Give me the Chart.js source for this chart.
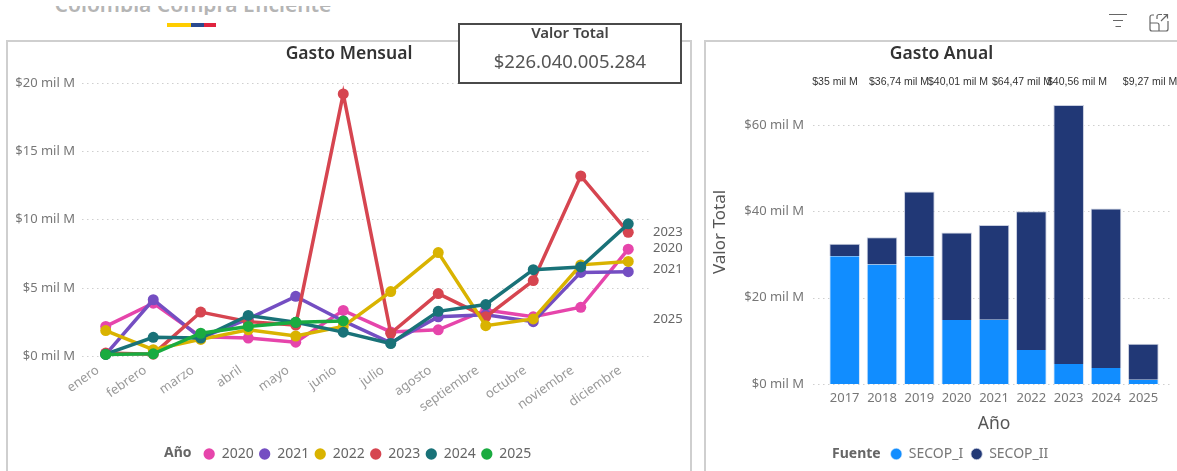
<!DOCTYPE html>
<html>
<head>
<meta charset="utf-8">
<script src="https://cdn.jsdelivr.net/npm/chart.js@4"></script>
<style>
    body { margin: 0; background: #fff; overflow: hidden; width: 1177px; height: 471px; position: relative; font-family: "Noto Sans", sans-serif; }
    .abs { position: absolute; }
    .panel { position: absolute; top: 40px; height: 440px; border: 2px solid #cfcfcf; box-sizing: border-box; background: #fff; }
    #cut { left: 0; top: 6px; width: 400px; height: 9px; overflow: hidden; }
    #cut span { position: absolute; left: 54px; top: -17px; width: 278px; line-height: 30px; text-align: center; font-size: 21px; font-weight: 600; color: #b5b5b5; white-space: nowrap; }
    #card { left: 458px; top: 23px; width: 224px; height: 61px; border: 2px solid #4a4a4a; box-sizing: border-box; background: #fff; text-align: center; color: #444; }
    #card .t { font-size: 15px; font-weight: 600; line-height: 16px; margin-top: -1px; }
    #card .v { font-size: 18.5px; line-height: 24px; margin-top: 9px; color: #555; }
    .legend-title { font-size: 14px; font-weight: 700; color: #666; white-space: nowrap; }
</style>
</head>
<body>
<div class="abs" id="cut"><span>Colombia Compra Eficiente</span></div>
<div class="abs" style="left:167px;top:23px;width:24px;height:4px;background:#ffcd00"></div>
<div class="abs" style="left:191px;top:23px;width:13px;height:4px;background:#2a4a8f"></div>
<div class="abs" style="left:204px;top:23px;width:12px;height:4px;background:#e0233e"></div>

<div class="panel" style="left:6px;width:686px"></div>
<div class="panel" style="left:704px;width:480px"></div>

<canvas class="abs" id="monthChart" width="682" height="429" style="left:8px;top:42px"></canvas>
<canvas class="abs" id="yearChart" width="471" height="429" style="left:706px;top:42px"></canvas>

<div class="abs legend-title" style="left:164px;top:442px">Año</div>
<div class="abs legend-title" style="left:832px;top:443px">Fuente</div>

<div class="abs" id="card">
    <div class="t">Valor Total</div>
    <div class="v">$226.040.005.284</div>
</div>

<svg class="abs" style="left:1105px;top:10px" width="70" height="26" fill="none" stroke="#666" stroke-width="1.2">
    <path d="M4 4.5H22M8 10.5H18M10.5 16.5H16"/>
    <path d="M52 9V6.5a2 2 0 0 1 2-2h3M60 4.5h2.500M63 11v8a2 2 0 0 1-2 2H47a2 2 0 0 1-2-2V7a2 2 0 0 1 2-2h2M45 13h7a2 2 0 0 1 2 2v6M56 11l6.500-6.500M58.500 4.500h4v4"/>
</svg>

<script>
// monthly spend, in "mil M"
const months = ['enero', 'febrero', 'marzo', 'abril', 'mayo', 'junio', 'julio', 'agosto', 'septiembre', 'octubre', 'noviembre', 'diciembre'];
const gasto2020 = [2.2, 3.9, 1.45, 1.35, 1.05, 3.37, 1.8, 1.95, 3.4, 2.9, 3.6, 7.85];
const gasto2021 = [0.15, 4.15, 1.35, 2.75, 4.4, 2.6, 1.0, 2.9, 3.05, 2.55, 6.15, 6.2];
const gasto2022 = [1.9, 0.5, 1.25, 1.95, 1.5, 2.2, 4.75, 7.6, 2.25, 2.75, 6.7, 6.95];
const gasto2023 = [0.25, 0.17, 3.25, 2.55, 2.3, 19.2, 1.7, 4.6, 2.9, 5.55, 13.2, 9.08];
const gasto2024 = [0.17, 1.4, 1.35, 3.0, 2.5, 1.78, 0.95, 3.3, 3.8, 6.35, 6.55, 9.7];
const gasto2025 = [0.15, 0.2, 1.7, 2.2, 2.5, 2.6, null, null, null, null, null, null];
const endLabels = ['2023', '2020', '2021', '2025'];
const endLabelValues = [9.1, 7.9, 6.4, 2.7];

// yearly spend by source
const years = ['2017', '2018', '2019', '2020', '2021', '2022', '2023', '2024', '2025'];
const secopI = [29.6, 27.65, 29.6, 14.8, 14.9, 7.9, 4.65, 3.7, 1.0];
const secopII = [2.9, 6.35, 15.0, 20.3, 21.9, 32.1, 59.95, 36.95, 8.35];
const totalLabels = ['$35 mil M', '$36,74 mil M', '$40,01 mil M', '$64,47 mil M', '$40,56 mil M', '$9,27 mil M'];
const totalLabelCenters = [835, 899, 958, 1022, 1077, 1150];

const fontFamily = '"Noto Sans", sans-serif';
const tickColor = '#777';

function moneyTick(value) {
    return '$' + value + ' mil M';
}

function lineSeries(label, data, color, order) {
    return {
        label: label,
        data: data,
        borderColor: color,
        backgroundColor: color,
        borderWidth: 3.5,
        pointRadius: 5.5,
        pointBorderWidth: 0,
        pointStyle: 'circle',
        tension: 0,
        clip: false,
        order: order
    };
}

// empty axis, keeps room at the right of the plot without moving title and legend off centre
function spacerAxis(width) {
    return {
        type: 'linear',
        axis: 'y',
        position: 'right',
        grid: { display: false },
        border: { display: false },
        ticks: { display: false },
        afterFit: function(scale) { scale.width = width; }
    };
}

// Power BI centres the legend next to its title, move ours over the same way
function legendShift(dx) {
    return {
        id: 'legendShift',
        afterLayout: function(chart) {
            chart.legend.left += 2 * dx;
        }
    };
}

// series names next to the right end of the lines
const endLabelPlugin = {
    id: 'endLabelPlugin',
    afterDraw: function(chart) {
        const ctx = chart.ctx;
        const y = chart.scales.y;
        ctx.save();
        ctx.font = '13px ' + fontFamily;
        ctx.fillStyle = '#666';
        ctx.textBaseline = 'middle';
        endLabels.forEach(function(text, i) {
            ctx.fillText(text, chart.chartArea.right + 1, y.getPixelForValue(endLabelValues[i]));
        });
        ctx.restore();
    }
};

new Chart(document.getElementById('monthChart').getContext('2d'), {
    type: 'line',
    data: {
        labels: months,
        datasets: [
            lineSeries('2020', gasto2020, '#e645ab', 5),
            lineSeries('2021', gasto2021, '#744ec2', 4),
            lineSeries('2022', gasto2022, '#d9b300', 2),
            lineSeries('2023', gasto2023, '#d64550', 3),
            lineSeries('2024', gasto2024, '#197278', 1),
            lineSeries('2025', gasto2025, '#1aab40', 0)
        ]
    },
    options: {
        responsive: false,
        animation: false,
        plugins: {
            title: {
                display: true,
                text: 'Gasto Mensual',
                color: '#333',
                font: { family: fontFamily, size: 17.5, weight: '600' },
                padding: { top: 2, bottom: 18 }
            },
            legend: {
                position: 'bottom',
                labels: {
                    usePointStyle: true,
                    pointStyle: 'circle',
                    boxWidth: 11,
                    boxHeight: 8,
                    padding: 5.5,
                    color: '#666',
                    font: { family: fontFamily, size: 14 },
                    sort: function(a, b) { return a.datasetIndex - b.datasetIndex; }
                }
            },
            tooltip: { enabled: false }
        },
        scales: {
            x: {
                offset: true,
                grid: { display: false, drawTicks: false },
                border: { display: false },
                ticks: {
                    color: '#999',
                    font: { family: fontFamily, size: 13 },
                    maxRotation: 35,
                    minRotation: 35,
                    autoSkip: false,
                    padding: 6,
                    labelOffset: -8
                },
                afterFit: function(scale) { scale.height = 85; }
            },
            y: {
                min: 0,
                max: 20,
                grid: { color: '#cfcfcf', tickLength: 0, lineWidth: 1 },
                border: { display: false, dash: [1.5, 3.5] },
                ticks: {
                    stepSize: 5,
                    padding: 7,
                    color: tickColor,
                    font: { family: fontFamily, size: 13 },
                    callback: moneyTick
                },
                afterFit: function(scale) { scale.width = 74; }
            },
            pad: spacerAxis(38)
        }
    },
    plugins: [endLabelPlugin, legendShift(18.5)]
});

// Grid of the yearly chart runs past the first and last bars, and the totals sit in a row on top
const yearExtrasPlugin = {
    id: 'yearExtrasPlugin',
    beforeDatasetsDraw: function(chart) {
        const ctx = chart.ctx;
        const y = chart.scales.y;
        ctx.save();
        ctx.strokeStyle = '#cfcfcf';
        ctx.lineWidth = 1;
        ctx.setLineDash([1.5, 3.5]);
        y.ticks.forEach(function(tick) {
            const py = Math.round(y.getPixelForValue(tick.value)) + 0.5;
            ctx.beginPath();
            ctx.moveTo(chart.chartArea.left - 13, py);
            ctx.lineTo(chart.chartArea.right + 10, py);
            ctx.stroke();
        });
        ctx.restore();
    },
    afterDraw: function(chart) {
        const ctx = chart.ctx;
        ctx.save();
        ctx.font = '10.5px "Liberation Sans", sans-serif';
        ctx.fillStyle = '#333';
        ctx.textAlign = 'center';
        ctx.textBaseline = 'middle';
        totalLabels.forEach(function(text, i) {
            ctx.fillText(text, totalLabelCenters[i] - 706, 40);
        });
        ctx.restore();
    }
};

new Chart(document.getElementById('yearChart').getContext('2d'), {
    type: 'bar',
    data: {
        labels: years,
        datasets: [
            { label: 'SECOP_I', data: secopI, backgroundColor: '#118dff', borderColor: '#d5e6f8', borderWidth: { left: 1, right: 1 }, stack: 'a' },
            { label: 'SECOP_II', data: secopII, backgroundColor: '#213876', borderColor: '#c9cfe0', borderWidth: { left: 1, right: 1, top: 1 }, stack: 'a' }
        ]
    },
    options: {
        responsive: false,
        animation: false,
        datasets: { bar: { barPercentage: 0.82, categoryPercentage: 1 } },
        plugins: {
            title: {
                display: true,
                text: 'Gasto Anual',
                color: '#333',
                font: { family: fontFamily, size: 17.5, weight: '600' },
                padding: { top: 2, bottom: 15 }
            },
            legend: {
                position: 'bottom',
                labels: {
                    usePointStyle: true,
                    pointStyle: 'circle',
                    boxWidth: 11,
                    boxHeight: 8,
                    padding: 8,
                    color: '#777',
                    font: { family: fontFamily, size: 14 }
                }
            },
            tooltip: { enabled: false }
        },
        scales: {
            x: {
                stacked: true,
                grid: { display: false, drawTicks: false },
                border: { display: false },
                title: { display: true, text: 'Año', color: '#555', font: { family: fontFamily, size: 17.5 }, padding: { top: 3, bottom: 4 } },
                ticks: { color: tickColor, font: { family: fontFamily, size: 13 }, padding: 6, maxRotation: 0, autoSkip: false },
                afterFit: function(scale) { scale.height = 55; }
            },
            y: {
                stacked: true,
                min: 0,
                max: 70.4,
                grid: { display: false, drawTicks: false },
                border: { display: false },
                title: { display: true, text: 'Valor Total', color: '#555', font: { family: fontFamily, size: 17 }, padding: { top: 4, bottom: 0 } },
                ticks: {
                    stepSize: 20,
                    includeBounds: false,
                    padding: 22,
                    color: tickColor,
                    font: { family: fontFamily, size: 13 },
                    callback: moneyTick
                },
                afterFit: function(scale) { scale.width = 120; }
            },
            pad: spacerAxis(15)
        }
    },
    plugins: [yearExtrasPlugin, legendShift(28)]
});
</script>
</body>
</html>
